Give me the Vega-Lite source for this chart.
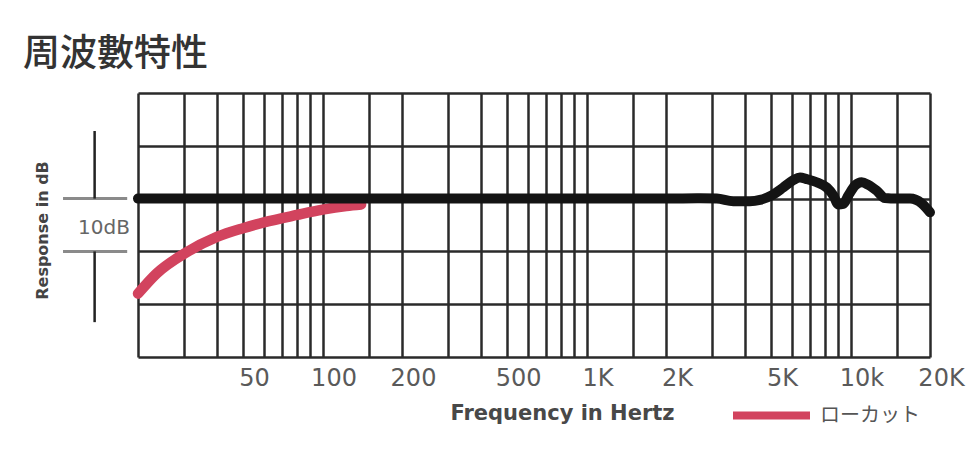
{
  "$schema": "https://vega.github.io/schema/vega-lite/v6.json",
  "width": 792,
  "height": 264,
  "autosize": "none",
  "padding": {"left": 138, "top": 93, "right": 50, "bottom": 103},
  "background": "white",
  "title": {"text": "周波數特性", "anchor": "start", "frame": "group", "dx": -115, "offset": 19, "font": "Noto Sans CJK JP", "fontSize": 37, "fontWeight": 500, "color": "#333333"},
  "config": {"view": {"stroke": null}},
  "layer": [
    {
      "data": {"values": [
        {"freq": 20, "db": -18.0, "series": "ローカット"},
        {"freq": 23.5, "db": -14.2, "series": "ローカット"},
        {"freq": 30, "db": -10.4, "series": "ローカット"},
        {"freq": 40, "db": -7.2, "series": "ローカット"},
        {"freq": 50, "db": -5.6, "series": "ローカット"},
        {"freq": 60, "db": -4.5, "series": "ローカット"},
        {"freq": 80, "db": -3.1, "series": "ローカット"},
        {"freq": 100, "db": -2.1, "series": "ローカット"},
        {"freq": 123, "db": -1.4, "series": "ローカット"},
        {"freq": 140, "db": -1.1, "series": "ローカット"}
      ]},
      "mark": {"type": "line", "interpolate": "monotone", "strokeWidth": 10.5, "strokeCap": "round"},
      "encoding": {
        "x": {
          "field": "freq", "type": "quantitative",
          "scale": {"type": "log", "domain": [20, 20000], "nice": false},
          "axis": {
            "title": "Frequency in Hertz",
            "values": [20, 30, 40, 50, 60, 70, 80, 90, 100, 150, 200, 300, 400, 500, 600, 700, 800, 900, 1000, 1500, 2000, 3000, 4000, 5000, 6000, 7000, 8000, 9000, 10000, 15000, 20000],
            "labelExpr": "datum.value==1000?'1K':datum.value==2000?'2K':datum.value==5000?'5K':datum.value==10000?'10k':datum.value==20000?'20K':(datum.value==50||datum.value==100||datum.value==200||datum.value==500)?(''+datum.value):''",
            "grid": true, "gridColor": "#2a2a2a", "gridWidth": 2.5, "gridOpacity": 1,
            "ticks": false, "domain": false,
            "labelFont": "DejaVu Sans", "labelFontSize": 24, "labelColor": "#5a5a5a",
            "labelPadding": 9, "labelOffset": 11, "labelOverlap": false, "labelBound": false, "labelFlush": false,
            "titleFont": "DejaVu Sans", "titleFontSize": 21, "titleFontWeight": "bold", "titleColor": "#484848",
            "titleX": 424, "titleY": 56, "titleBaseline": "middle", "titleAlign": "center"
          }
        },
        "y": {
          "field": "db", "type": "quantitative",
          "scale": {"domain": [-30, 20], "nice": false},
          "axis": {
            "title": "Response in dB",
            "values": [-30, -20, -10, 0, 10, 20],
            "labels": false, "ticks": false, "domain": false,
            "grid": true, "gridColor": "#2a2a2a", "gridWidth": 2.5, "gridOpacity": 1,
            "titleFont": "DejaVu Sans", "titleFontSize": 16, "titleFontWeight": "bold", "titleColor": "#444444",
            "titleAngle": 270, "titleX": -96, "titleY": 137, "titleBaseline": "middle", "titleAlign": "center"
          }
        },
        "color": {
          "field": "series", "type": "nominal",
          "scale": {"range": ["#d2435e"]},
          "legend": {
            "orient": "none", "legendX": 591, "legendY": 280, "title": null,
            "symbolType": "stroke", "symbolSize": 5929, "symbolStrokeWidth": 8,
            "labelFont": "Noto Sans CJK JP", "labelFontSize": 20, "labelColor": "#555555",
            "labelOffset": 6, "padding": 0
          }
        }
      }
    },
    {
      "data": {"values": [
        {"freq": 20, "db": 0}, {"freq": 50, "db": 0}, {"freq": 100, "db": 0},
        {"freq": 200, "db": 0}, {"freq": 500, "db": 0},
        {"freq": 1000, "db": 0}, {"freq": 2000, "db": 0}, {"freq": 2690, "db": 0.05},
        {"freq": 3112, "db": 0}, {"freq": 3598, "db": -0.5}, {"freq": 4160, "db": -0.5},
        {"freq": 4540, "db": -0.25}, {"freq": 5027, "db": 0.6}, {"freq": 5560, "db": 2.1},
        {"freq": 6068, "db": 3.5}, {"freq": 6436, "db": 4.0}, {"freq": 6822, "db": 3.7},
        {"freq": 7446, "db": 3.1}, {"freq": 8125, "db": 2.1}, {"freq": 8610, "db": 0.6},
        {"freq": 8990, "db": -1.1}, {"freq": 9396, "db": -1.0}, {"freq": 9816, "db": 0.6},
        {"freq": 10410, "db": 2.5}, {"freq": 11020, "db": 3.1}, {"freq": 11680, "db": 2.6},
        {"freq": 12560, "db": 1.5}, {"freq": 13520, "db": 0.1}, {"freq": 14960, "db": 0},
        {"freq": 16800, "db": 0}, {"freq": 18600, "db": -0.9}, {"freq": 20000, "db": -2.6}
      ]},
      "mark": {"type": "line", "interpolate": "monotone", "strokeWidth": 10, "color": "#141414", "strokeCap": "round"},
      "encoding": {
        "x": {"field": "freq", "type": "quantitative"},
        "y": {"field": "db", "type": "quantitative"}
      }
    },
    {
      "data": {"values": [
        {"freq": 10.4, "freq2": 18.2, "db": 0},
        {"freq": 10.4, "freq2": 18.2, "db": -10}
      ]},
      "mark": {"type": "rule", "color": "#8a8a8a", "strokeWidth": 3},
      "encoding": {
        "x": {"field": "freq", "type": "quantitative"},
        "x2": {"field": "freq2"},
        "y": {"field": "db", "type": "quantitative"}
      }
    },
    {
      "data": {"values": [
        {"freq": 13.7, "db": 12.8, "db2": 0},
        {"freq": 13.7, "db": -10, "db2": -23.4}
      ]},
      "mark": {"type": "rule", "color": "#222222", "strokeWidth": 2.5},
      "encoding": {
        "x": {"field": "freq", "type": "quantitative"},
        "y": {"field": "db", "type": "quantitative"},
        "y2": {"field": "db2"}
      }
    },
    {
      "data": {"values": [{"freq": 14.87, "db": -5.5, "label": "10dB"}]},
      "mark": {"type": "text", "font": "DejaVu Sans", "fontSize": 20, "color": "#666666", "align": "center", "baseline": "middle"},
      "encoding": {
        "x": {"field": "freq", "type": "quantitative"},
        "y": {"field": "db", "type": "quantitative"},
        "text": {"field": "label"}
      }
    }
  ]
}
